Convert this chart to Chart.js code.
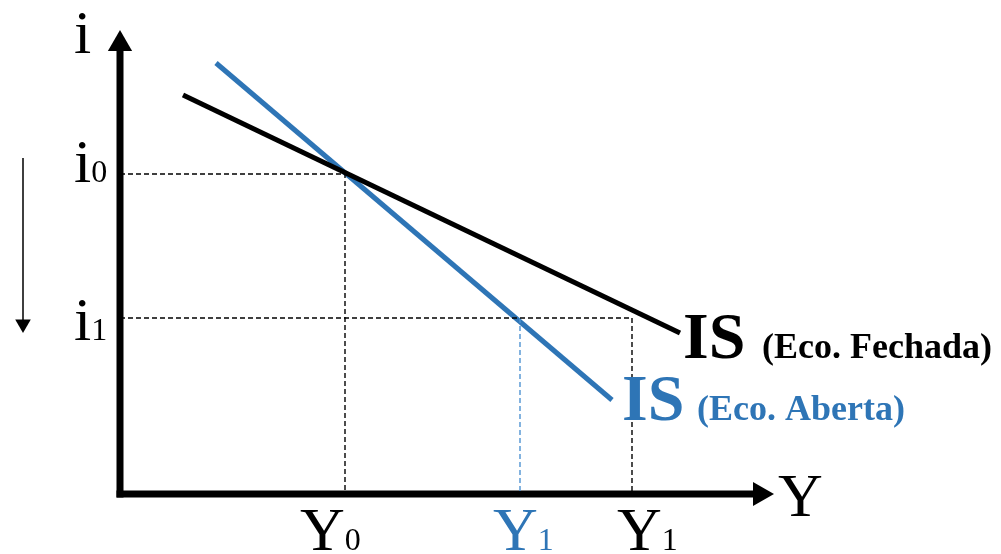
<!DOCTYPE html>
<html>
<head>
<meta charset="utf-8">
<script src="https://cdn.jsdelivr.net/npm/chart.js@4/dist/chart.umd.min.js"></script>
<style>
body { margin: 0; background: #fff; }
#wrap { width: 1001px; height: 554px; }
</style>
</head>
<body>
<div id="wrap"><canvas id="isChart"></canvas></div>
<script>
"use strict";

// IS curves (Y, i)
const isFechada = [{x: 6.3, y: 39.9}, {x: 56, y: 16.1}];
const isAberta = [{x: 9.6, y: 43.1}, {x: 49.2, y: 9.4}];
// i0, i1
const interestLevels = [32, 17.6];
const interestLabels = ["0", "1"];
// Y0, Y1 (aberta), Y1 (fechada)
const incomeLevels = [22.5, 40, 51.2];
const incomeLabels = ["0", "1", "1"];
const axisLength = {x: 64, y: 45};
const arrowDown = [33.6, 17];

const BLACK = "#000000";
const BLUE = "#2e75b6";
const BLUE_DASH = "#4f93d2";
const SERIF = "'Liberation Serif', 'Times New Roman', serif";

const line = (data, color, width, dash) => ({
	data: data,
	borderColor: color,
	borderWidth: width,
	borderDash: dash ?? [],
	pointRadius: 0,
	showLine: true,
	fill: false
});

const arrowHead = (point, rotation, radius) => ({
	data: [point],
	showLine: false,
	pointStyle: "triangle",
	pointRotation: rotation,
	pointRadius: radius,
	pointBorderWidth: 0,
	pointBackgroundColor: BLACK
});

const buildDatasets = () => {
	let datasets = [];
	let i0 = interestLevels[0], i1 = interestLevels[1];
	let y0 = incomeLevels[0], y1a = incomeLevels[1], y1f = incomeLevels[2];
	// guides
	datasets.push(line([{x: 0, y: i0}, {x: y0, y: i0}, {x: y0, y: 0}], BLACK, 1.4, [5, 3]));
	datasets.push(line([{x: 0, y: i1}, {x: y1f, y: i1}, {x: y1f, y: 0}], BLACK, 1.4, [5, 3]));
	datasets.push(line([{x: y1a, y: i1}, {x: y1a, y: 0}], BLUE_DASH, 1.4, [5, 3]));
	// curves
	datasets.push(line(isFechada, BLACK, 5));
	datasets.push(line(isAberta, BLUE, 5));
	// axes
	let xAxis = line([{x: 0, y: 0}, {x: axisLength.x - 1, y: 0}], BLACK, 7);
	let yAxis = line([{x: 0, y: 0}, {x: 0, y: axisLength.y - 1}], BLACK, 7);
	xAxis.borderCapStyle = "square";
	yAxis.borderCapStyle = "square";
	datasets.push(xAxis, yAxis);
	datasets.push(arrowHead({x: axisLength.x, y: 0}, 90, 14));
	datasets.push(arrowHead({x: 0, y: axisLength.y}, 0, 14));
	// falling interest arrow
	datasets.push(line([{x: -9.7, y: arrowDown[0]}, {x: -9.7, y: arrowDown[1]}], BLACK, 1.5));
	datasets.push(arrowHead({x: -9.7, y: arrowDown[1]}, 180, 9));
	return datasets;
};

const drawSubscripted = (ctx, main, sub, left, baseline, color) => {
	ctx.fillStyle = color;
	ctx.font = `62px ${SERIF}`;
	ctx.fillText(main, left, baseline);
	let mainWidth = ctx.measureText(main).width;
	ctx.font = `32px ${SERIF}`;
	ctx.fillText(sub, left + mainWidth, baseline);
	return mainWidth;
};

const labelsPlugin = {
	id: "labels",
	afterDatasetsDraw: chart => {
		let ctx = chart.ctx;
		let xs = chart.scales.x, ys = chart.scales.y;
		let x0 = xs.getPixelForValue(0), y0 = ys.getPixelForValue(0);
		ctx.save();
		ctx.textBaseline = "alphabetic";
		ctx.textAlign = "left";
		// axis titles
		ctx.fillStyle = BLACK;
		ctx.font = `62px ${SERIF}`;
		ctx.fillText("i", x0 - 46, ys.getPixelForValue(axisLength.y) + 9);
		ctx.fillText("Y", xs.getPixelForValue(axisLength.x) + 18, y0 + 22);
		// i ticks
		let iDy = [8, 22];
		interestLevels.forEach((level, index) => {
			drawSubscripted(ctx, "i", interestLabels[index], x0 - 46, ys.getPixelForValue(level) + iDy[index], BLACK);
		});
		// Y ticks
		let yDx = [-45, -27, -15];
		let yColors = [BLACK, BLUE, BLACK];
		incomeLevels.forEach((level, index) => {
			drawSubscripted(ctx, "Y", incomeLabels[index], xs.getPixelForValue(level) + yDx[index], y0 + 56, yColors[index]);
		});
		// curve labels
		let endF = isFechada[isFechada.length - 1];
		let endA = isAberta[isAberta.length - 1];
		let fx = xs.getPixelForValue(endF.x), fy = ys.getPixelForValue(endF.y);
		let ax = xs.getPixelForValue(endA.x), ay = ys.getPixelForValue(endA.y);
		ctx.font = `bold 66px ${SERIF}`;
		ctx.fillStyle = BLACK;
		ctx.fillText("IS", fx + 3, fy + 25);
		ctx.fillStyle = BLUE;
		ctx.fillText("IS", ax + 10, ay + 20);
		ctx.font = `bold 36px ${SERIF}`;
		ctx.fillStyle = BLACK;
		ctx.fillText("(Eco. Fechada)", fx + 82, fy + 25);
		ctx.fillStyle = BLUE;
		ctx.fillText("(Eco. Aberta)", ax + 85, ay + 20);
		ctx.restore();
	}
};

new Chart(document.querySelector("canvas#isChart"), {
	type: "scatter",
	data: {
		datasets: buildDatasets()
	},
	options: {
		responsive: true,
		maintainAspectRatio: false,
		animation: false,
		events: [],
		layout: {
			padding: 0,
			autoPadding: false
		},
		scales: {
			x: {
				type: "linear",
				display: false,
				min: -12,
				max: 88.1
			},
			y: {
				type: "linear",
				display: false,
				min: -6,
				max: 49.4
			}
		},
		plugins: {
			legend: {
				display: false
			},
			tooltip: {
				enabled: false
			}
		}
	},
	plugins: [labelsPlugin]
});
</script>
</body>
</html>
